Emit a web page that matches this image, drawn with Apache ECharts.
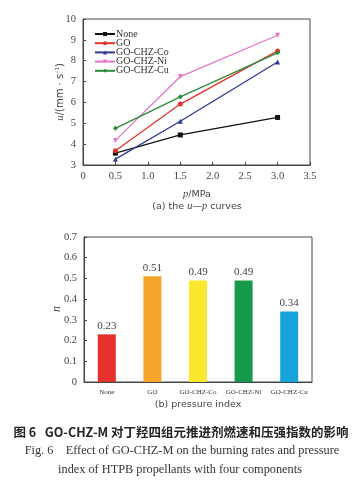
<!DOCTYPE html>
<html><head><meta charset="utf-8">
<script src="https://cdn.jsdelivr.net/npm/echarts@6/dist/echarts.min.js"></script>
<style>html,body{margin:0;padding:0;background:#fff}#c{width:358px;height:500px}</style>
</head><body><div id="c"></div>
<script>
var pressures = [0.5, 1.5, 3.0];
var seriesNames = ['None', 'GO', 'GO-CHZ-Co', 'GO-CHZ-Ni', 'GO-CHZ-Cu'];
var uNone = [3.57, 4.44, 5.28];
var uGO = [3.68, 5.92, 8.47];
var uCo = [3.28, 5.10, 7.94];
var uNi = [4.18, 7.24, 9.22];
var uCu = [4.76, 6.27, 8.38];
var barCategories = ['None', 'GO', 'GO-CHZ-Co', 'GO-CHZ-Ni', 'GO-CHZ-Cu'];
var nValues = [0.23, 0.51, 0.49, 0.49, 0.34];

var lineColors = ['#111111', '#e4352c', '#2b3990', '#e774c4', '#2a8b3b'];
var symbols = ['rect', 'circle', 'triangle', 'path://M0,0 L10,0 L5,9 Z', 'diamond'];
var barColors = ['#e4312b', '#f5a52a', '#fbe82c', '#16994a', '#17a3db'];
var uData = [uNone, uGO, uCo, uNi, uCu];

var chart = echarts.init(document.getElementById('c'), null, {renderer: 'canvas'});
var serif = 'Liberation Serif';
var axisCol = '#444';

var lineSeries = seriesNames.map(function (name, i) {
  return {
    name: name, type: 'line', xAxisIndex: 0, yAxisIndex: 0,
    data: pressures.map(function (p, j) { return [p, uData[i][j]]; }),
    symbol: symbols[i], symbolSize: 5,
    lineStyle: {color: lineColors[i], width: 1.3},
    itemStyle: {color: lineColors[i]}
  };
});

var option = {
  animation: false,
  backgroundColor: '#fff',
  legend: {
    data: seriesNames, orient: 'vertical', left: 94, top: 29, padding: 0,
    itemWidth: 20, itemHeight: 5, itemGap: -0.8,
    textStyle: {fontFamily: serif, fontSize: 10, lineHeight: 8.5, color: '#333', padding: [0,0,0,-4]}
  },
  grid: [
    {left: 83, right: 48, top: 19, bottom: 335, show: true, borderColor: axisCol, borderWidth: 1},
    {left: 84, right: 46, top: 237, bottom: 118, show: true, borderColor: axisCol, borderWidth: 1}
  ],
  xAxis: [
    {type: 'value', gridIndex: 0, min: 0, max: 3.5, interval: 0.5,
     axisLine: {lineStyle: {color: axisCol}}, axisTick: {inside: true, length: 3, lineStyle: {color: axisCol}},
     splitLine: {show: false},
     axisLabel: {color: '#444', fontFamily: serif, fontSize: 10.5, margin: 6,
       formatter: function (v) { return v === 0 ? '0' : v.toFixed(1); }}},
    {type: 'category', gridIndex: 1, data: barCategories,
     axisLine: {lineStyle: {color: axisCol}}, axisTick: {show: false},
     axisLabel: {color: '#333', fontFamily: serif, fontSize: 7, margin: 7, interval: 0}}
  ],
  yAxis: [
    {type: 'value', gridIndex: 0, min: 3, max: 10, interval: 1,
     axisLine: {show: true, lineStyle: {color: axisCol}}, axisTick: {show: true, inside: true, length: 3, lineStyle: {color: axisCol}},
     splitLine: {show: false},
     axisLabel: {color: '#444', fontFamily: serif, fontSize: 10.5, margin: 7}},
    {type: 'value', gridIndex: 1, min: 0, max: 0.7, interval: 0.1,
     axisLine: {show: true, lineStyle: {color: axisCol}}, axisTick: {show: true, inside: true, length: 3, lineStyle: {color: axisCol}},
     splitLine: {show: false},
     axisLabel: {color: '#444', fontFamily: serif, fontSize: 10.5, margin: 7,
       formatter: function (v) { return v === 0 ? '0' : v.toFixed(1); }}}
  ],
  series: lineSeries.concat([{
    type: 'bar', xAxisIndex: 1, yAxisIndex: 1, barWidth: 18,
    data: nValues.map(function (v, i) { return {value: v, itemStyle: {color: barColors[i]}}; }),
    label: {show: true, position: 'top', distance: 3, color: '#444', fontFamily: serif, fontSize: 11,
      formatter: function (p) { return p.value.toFixed(2); }}
  }]),
  graphic: [
    {type: 'text', x: 60, y: 92, rotation: Math.PI / 2,
     style: {text: '{i|u}/(mm · s{s|−1})', fontFamily: 'DejaVu Sans', fontSize: 10, fill: '#444',
       align: 'center', verticalAlign: 'middle',
       rich: {i: {fontStyle: 'italic', fontFamily: serif, fontSize: 11, fill: '#444'},
              s: {fontSize: 6, verticalAlign: 'top', fill: '#444', padding: [0,0,6,0]}}}},
    {type: 'text', x: 197, y: 189,
     style: {text: '{i|p}/MPa', fontFamily: 'DejaVu Sans', fontSize: 9.5, fill: '#444', align: 'center',
       rich: {i: {fontStyle: 'italic', fontFamily: serif, fontSize: 10.5, fill: '#444'}}}},
    {type: 'text', x: 197, y: 201,
     style: {text: '(a) the {i|u}—{i|p} curves', fontFamily: 'DejaVu Sans', fontSize: 9.5, fill: '#444', align: 'center',
       rich: {i: {fontStyle: 'italic', fontFamily: serif, fontSize: 10.5, fill: '#444'}}}},
    {type: 'text', x: 57, y: 309, rotation: Math.PI / 2,
     style: {text: 'n', fontFamily: serif, fontStyle: 'italic', fontSize: 12, fill: '#444',
       align: 'center', verticalAlign: 'middle'}},
    {type: 'text', x: 198, y: 400,
     style: {text: '(b) pressure index', fontFamily: 'DejaVu Sans', fontSize: 9.5, fill: '#444', align: 'center'}},
    {type: 'text', x: 181, y: 426,
     style: {text: '图 6   GO-CHZ-M 对丁羟四组元推进剂燃速和压强指数的影响', fontFamily: 'Noto Sans CJK SC',
       fontWeight: 'bold', fontSize: 12.5, fill: '#222', align: 'center'}},
    {type: 'text', x: 182, y: 445,
     style: {text: 'Fig. 6    Effect of GO-CHZ-M on the burning rates and pressure', fontFamily: serif,
       fontSize: 12.3, fill: '#333', align: 'center'}},
    {type: 'text', x: 180, y: 464,
     style: {text: 'index of HTPB propellants with four components', fontFamily: serif,
       fontSize: 12.3, fill: '#333', align: 'center'}}
  ]
};
chart.setOption(option);
</script></body></html>
